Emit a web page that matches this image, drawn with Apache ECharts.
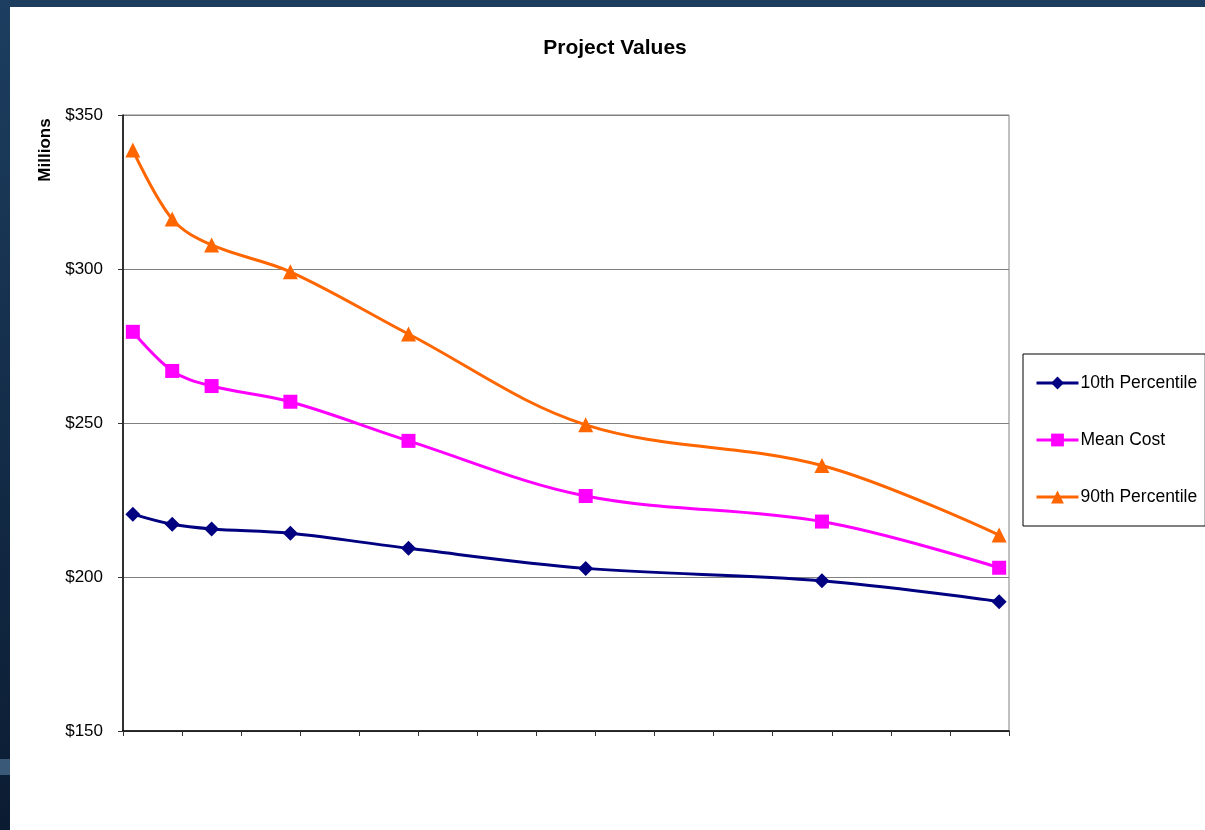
<!DOCTYPE html>
<html>
<head>
<meta charset="utf-8">
<script src="https://cdn.jsdelivr.net/npm/echarts@6/dist/echarts.min.js"></script>
<style>
  html, body { margin: 0; padding: 0; background: #ffffff; }
  #chart { width: 1205px; height: 830px; }
</style>
</head>
<body>
<div id="chart"></div>
<script>
// Elapsed time in months for each observation
const months = [2, 10, 18, 34, 58, 94, 142, 178];
const p10 = [220.4, 217.1, 215.6, 214.2, 209.3, 202.8, 198.8, 192.0];
const meanCost = [279.6, 266.9, 262.0, 256.9, 244.2, 226.3, 218.0, 203.0];
const p90 = [338.6, 316.2, 307.8, 299.1, 278.9, 249.4, 236.2, 213.6];
const yTicks = [150, 200, 250, 300, 350];

const pairs = (ys) => months.map((m, i) => [m, ys[i]]);
const font = 'Liberation Sans, Arial, sans-serif';

const chart = echarts.init(document.getElementById('chart'), null, { renderer: 'canvas' });
chart.setOption({
  animation: false,
  backgroundColor: '#ffffff',
  textStyle: { fontFamily: font },
  graphic: [
    { type: 'rect', left: 0, top: 0, shape: { width: 1205, height: 7 }, style: { fill: '#1c3d5e' }, z: 100 },
    { type: 'rect', left: 0, top: 0, shape: { width: 10, height: 830 },
      style: { fill: new echarts.graphic.LinearGradient(0, 0, 0, 1, [
        { offset: 0, color: '#1d3e60' }, { offset: 1, color: '#0b1c32' }]) }, z: 100 },
    { type: 'rect', left: 0, top: 759, shape: { width: 10, height: 16 }, style: { fill: '#3a5878' }, z: 101 },
    { type: 'text', x: 615, y: 48, z: 100,
      style: { text: 'Project Values', font: 'bold 21px ' + font, fill: '#000', textAlign: 'center', textVerticalAlign: 'middle' } },
    { type: 'text', x: 45, y: 150, rotation: Math.PI / 2, z: 100,
      style: { text: 'Millions', font: 'bold 17px ' + font, fill: '#000', textAlign: 'center', textVerticalAlign: 'middle' } }
  ],
  grid: { left: 123, top: 115, width: 886, height: 616, show: true, borderColor: '#808080', borderWidth: 1, backgroundColor: 'transparent' },
  legend: {
    orient: 'vertical',
    left: 1023, top: 354,
    padding: [20, 8, 20, 12],
    itemGap: 39,
    itemWidth: 42, itemHeight: 16,
    borderColor: '#000', borderWidth: 1,
    lineStyle: { width: 3 },
    textStyle: { fontSize: 17.5, color: '#000', fontFamily: font, padding: [0, 0, 0, -3] },
    data: ['10th Percentile', 'Mean Cost', '90th Percentile']
  },
  xAxis: {
    type: 'value', min: 0, max: 180, interval: 12,
    axisLine: { show: true, lineStyle: { color: '#000', width: 1.5 } },
    axisTick: { show: true, length: 5, lineStyle: { color: '#333' } },
    axisLabel: { show: false },
    splitLine: { show: false }
  },
  yAxis: {
    type: 'value', min: yTicks[0], max: yTicks[yTicks.length - 1], interval: 50,
    axisLine: { show: true, lineStyle: { color: '#000', width: 1.5 } },
    axisTick: { show: true, length: 5, lineStyle: { color: '#333' } },
    axisLabel: { formatter: v => '$' + v, fontSize: 17, color: '#000', margin: 20, fontFamily: font },
    splitLine: { show: true, lineStyle: { color: '#808080', width: 1 } }
  },
  series: [
    { name: '10th Percentile', type: 'line', data: pairs(p10), smooth: 0.35,
      symbol: 'diamond', symbolSize: 15, color: '#000080',
      lineStyle: { width: 3, color: '#000080' }, itemStyle: { color: '#000080' }, z: 3 },
    { name: 'Mean Cost', type: 'line', data: pairs(meanCost), smooth: 0.35,
      symbol: 'rect', symbolSize: 14, color: '#ff00ff',
      lineStyle: { width: 3, color: '#ff00ff' }, itemStyle: { color: '#ff00ff' }, z: 3 },
    { name: '90th Percentile', type: 'line', data: pairs(p90), smooth: 0.35,
      symbol: 'triangle', symbolSize: 15, color: '#ff6600',
      lineStyle: { width: 3, color: '#ff6600' }, itemStyle: { color: '#ff6600' }, z: 3 }
  ]
});
</script>
</body>
</html>
